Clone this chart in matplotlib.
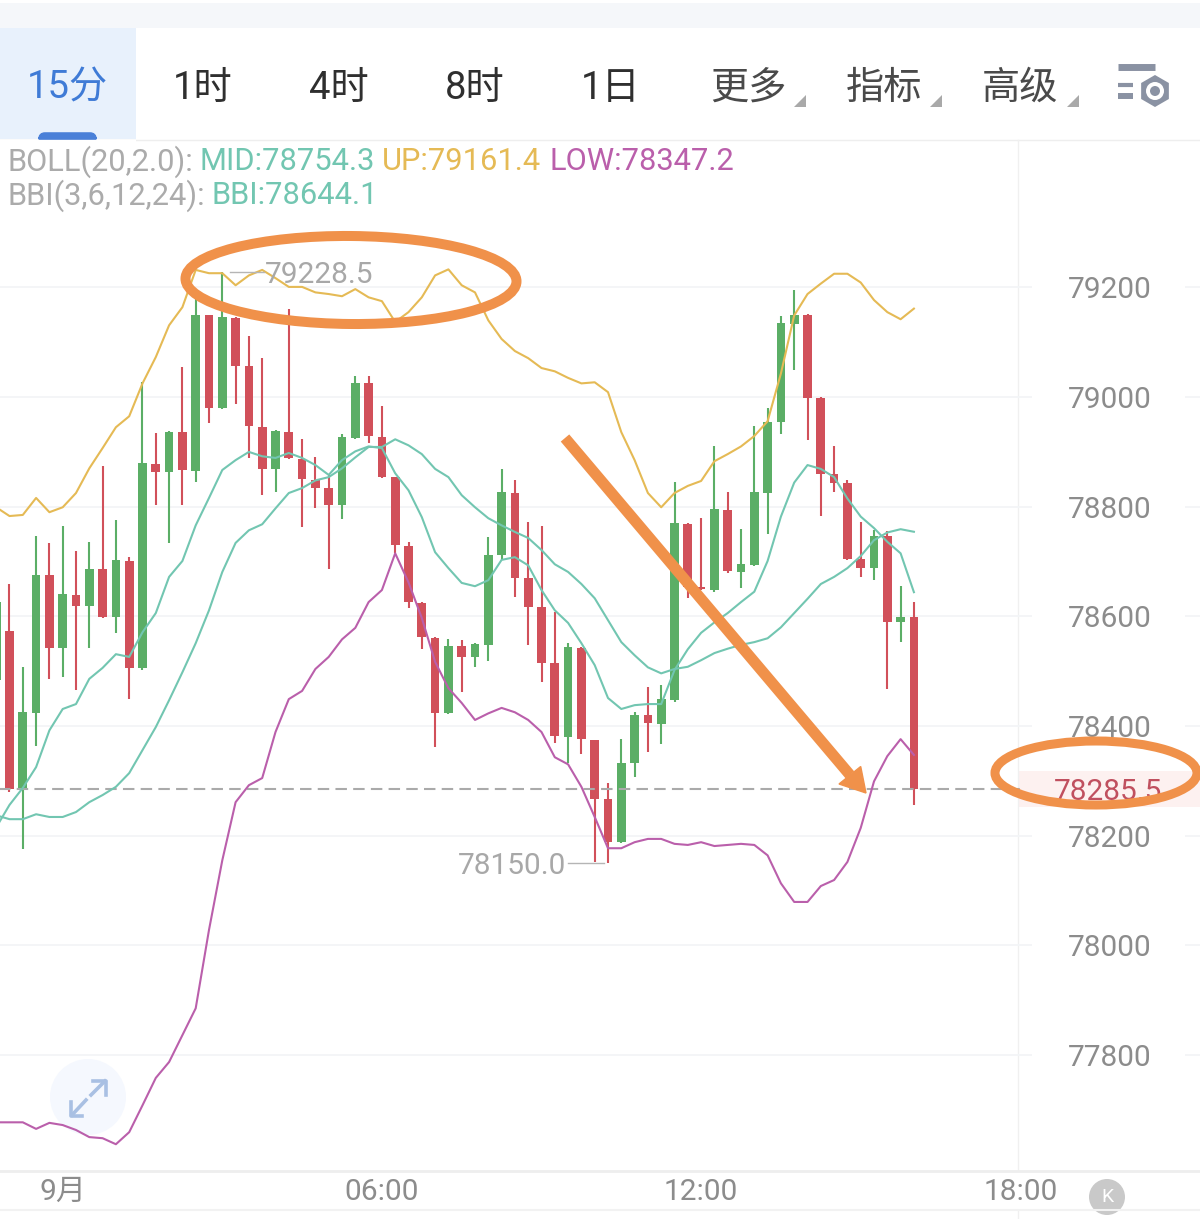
import numpy as np
import matplotlib
matplotlib.use("Agg")
from matplotlib import pyplot as plt
from matplotlib.patches import Ellipse, Rectangle, Polygon, Circle, FancyBboxPatch, RegularPolygon

plt.rcParams['font.family'] = ['Roboto', 'Noto Sans CJK SC', 'DejaVu Sans']

# 15 min candles, first one is cut off by the left edge
opens = [78484, 78573, 78285, 78423, 78675, 78542, 78639, 78619, 78686, 78599, 78701,
         78506, 78878, 78863, 78936, 78865, 79149, 78980, 79144, 79056, 78945, 78869,
         78936, 78887, 78848, 78834, 78803, 78925, 79025, 78927, 78854, 78728, 78624,
         78560, 78423, 78546, 78526, 78548, 78712, 78825, 78670, 78617, 78515, 78380,
         78542, 78374, 78267, 78188, 78332, 78420, 78403, 78447, 78768, 78653, 78648,
         78794, 78681, 78693, 78825, 78954, 79134, 79149, 78999, 78859, 78843, 78704,
         78688, 78746, 78589, 78599]
highs = [78640, 78659, 78507, 78746, 78734, 78765, 78719, 78735, 78874, 78776, 78708,
         79027, 78934, 78938, 79055, 79190, 79150, 79228.5, 79146, 79111, 79071, 78940,
         79160, 78923, 78890, 78858, 78932, 79038, 79038, 78983, 78854, 78735, 78626,
         78562, 78558, 78557, 78551, 78745, 78869, 78848, 78772, 78765, 78608, 78551,
         78544, 78375, 78296, 78376, 78425, 78471, 78475, 78846, 78770, 78779, 78910,
         78826, 78759, 78947, 78981, 79148, 79195, 79151, 79000, 78911, 78848, 78773,
         78757, 78755, 78655, 78626]
lows = [78470, 78279, 78175, 78363, 78486, 78489, 78465, 78542, 78597, 78569, 78449,
        78502, 78803, 78734, 78803, 78845, 78952, 78978, 78987, 78889, 78821, 78827,
        78887, 78763, 78797, 78686, 78777, 78923, 78916, 78852, 78715, 78615, 78540,
        78361, 78421, 78462, 78507, 78518, 78703, 78635, 78548, 78480, 78369, 78332,
        78349, 78152, 78150, 78186, 78307, 78352, 78367, 78444, 78634, 78648, 78644,
        78680, 78651, 78691, 78751, 78933, 79049, 78922, 78783, 78826, 78703, 78672,
        78666, 78467, 78554, 78256]
closes = [78626, 78285, 78425, 78675, 78542, 78641, 78619, 78686, 78599, 78703, 78506,
          78880, 78863, 78936, 78867, 79149, 78980, 79146, 79056, 78947, 78869, 78938,
          78889, 78850, 78834, 78803, 78927, 79025, 78929, 78854, 78730, 78626, 78562,
          78423, 78546, 78526, 78549, 78712, 78827, 78670, 78617, 78515, 78382, 78544,
          78376, 78267, 78188, 78332, 78420, 78405, 78449, 78770, 78653, 78650, 78796,
          78682, 78695, 78826, 78955, 79135, 79149, 78999, 78860, 78843, 78705, 78688,
          78746, 78589, 78599, 78285.5]

boll_up = [78799, 78783, 78785, 78816, 78790, 78799, 78825, 78870, 78907, 78945, 78965,
           79025, 79073, 79131, 79164, 79232, 79226, 79226, 79204, 79222, 79232, 79217,
           79201, 79201, 79191, 79188, 79184, 79197, 79182, 79175, 79137, 79155, 79182,
           79222, 79233, 79204, 79191, 79140, 79106, 79084, 79071, 79053, 79047, 79035,
           79025, 79027, 79009, 78936, 78885, 78825, 78799, 78825, 78838, 78847, 78883,
           78896, 78910, 78929, 78956, 79043, 79149, 79188, 79207, 79225, 79225, 79209,
           79177, 79155, 79142, 79161.4]
boll_mid = [78237, 78230, 78230, 78239, 78234, 78234, 78243, 78261, 78274, 78289, 78314,
            78356, 78398, 78447, 78498, 78551, 78611, 78681, 78734, 78757, 78768, 78797,
            78825, 78834, 78848, 78854, 78870, 78890, 78909, 78909, 78923, 78912, 78896,
            78869, 78854, 78821, 78799, 78779, 78766, 78754, 78743, 78721, 78695, 78681,
            78659, 78633, 78593, 78553, 78529, 78507, 78496, 78504, 78508, 78520, 78533,
            78541, 78548, 78553, 78560, 78580, 78606, 78632, 78659, 78672, 78688, 78710,
            78739, 78753, 78759, 78754.3]
boll_low = [77677, 77677, 77677, 77665, 77676, 77672, 77663, 77650, 77648, 77637, 77659,
            77708, 77758, 77787, 77836, 77885, 78028, 78155, 78261, 78292, 78305, 78389,
            78449, 78464, 78504, 78526, 78558, 78579, 78626, 78648, 78715, 78662, 78597,
            78517, 78469, 78442, 78411, 78423, 78433, 78425, 78411, 78389, 78343, 78330,
            78289, 78234, 78177, 78177, 78188, 78194, 78194, 78185, 78183, 78188, 78181,
            78183, 78185, 78183, 78164, 78113, 78079, 78079, 78108, 78119, 78152, 78214,
            78299, 78345, 78376, 78347.2]
bbi = [78215, 78256, 78287, 78325, 78392, 78431, 78440, 78486, 78506, 78531, 78526,
       78571, 78606, 78672, 78701, 78766, 78816, 78867, 78885, 78900, 78892, 78889,
       78898, 78889, 78876, 78858, 78885, 78901, 78910, 78907, 78861, 78830, 78781,
       78717, 78688, 78661, 78655, 78666, 78703, 78708, 78693, 78648, 78611, 78588,
       78551, 78511, 78451, 78431, 78438, 78440, 78440, 78502, 78540, 78570, 78589,
       78606, 78626, 78645, 78701, 78782, 78844, 78876, 78869, 78854, 78815, 78782,
       78761, 78736, 78715, 78644.1]

y_ticks = [79200, 79000, 78800, 78600, 78400, 78200, 78000, 77800]
x_ticks = [4, 28, 52, 76]
x_labels = ['9月', '06:00', '12:00', '18:00']
last_price = 78285.5
tabs = ['1时', '4时', '8时', '1日', '更多', '指标', '高级']
tab_x = [203, 339, 475, 611, 748, 884, 1020]

GREEN = '#5bae66'
RED = '#d1505a'
TEAL = '#72c6b1'
YELLOW = '#e5ba55'
MAGENTA = '#ba5fab'
ORANGE = '#f0914a'
GRAY = '#8c8c8c'

fig = plt.figure(figsize=(12, 12.19), dpi=100, facecolor='white')

# pixel layer for the app chrome
bg = fig.add_axes([0, 0, 1, 1], zorder=0)
bg.set_xlim(0, 1200)
bg.set_ylim(1219, 0)
bg.axis('off')

bg.add_patch(Rectangle((0, 3), 1200, 25, fc='#f5f7fa', ec='none'))
bg.add_patch(Rectangle((0, 28), 136, 111, fc='#e8f1fc', ec='none'))
bg.add_patch(FancyBboxPatch((41, 135), 53, 6, boxstyle='round,pad=0,rounding_size=4',
                            fc='#4a80d8', ec='#4a80d8', lw=4))
bg.plot([0, 1200], [139.5, 139.5], color='#eeeeee', lw=1)
bg.add_patch(Rectangle((0, 139.5), 136, 4, fc='white', ec='none', zorder=3))

bg.text(67, 88, '15分', color='#3f7bd6', fontsize=27.5, ha='center', va='center')
for t, x in zip(tabs, tab_x):
    col = '#2f2f2f' if t in ('1时', '4时', '8时', '1日') else '#4a4a4a'
    bg.text(x, 88, t, color=col, fontsize=27.5, ha='center', va='center')
for x in [800, 936, 1073]:
    bg.add_patch(Polygon([[x + 6, 95], [x + 6, 107], [x - 6, 107]], fc='#a9a9a9', ec='none'))

# settings icon
for yy, x1, w in [(66.5, 1155, 5), (85, 1133, 3), (96, 1133, 4.3)]:
    bg.plot([1118, x1], [yy, yy], color='#8a92a3', lw=w, solid_capstyle='butt')
bg.add_patch(RegularPolygon((1155, 91), 6, radius=16, fc='#8a92a3', ec='none'))
bg.add_patch(Circle((1155, 91), 9, fc='white', ec='none'))
bg.add_patch(Circle((1155, 91), 5, fc='#8a92a3', ec='none'))

# legend lines, coloured piece by piece
for txt, x, y, col in [('BOLL(20,2.0):', 8, 162, '#ababab'), ('MID:78754.3', 200, 162, TEAL),
                       ('UP:79161.4', 382, 162, YELLOW), ('LOW:78347.2', 549, 162, MAGENTA),
                       ('BBI(3,6,12,24):', 8, 196, '#ababab'), ('BBI:78644.1', 212, 196, TEAL)]:
    bg.text(x, y, txt, color=col, fontsize=22.2, ha='left', va='center')

# right price band, separators, footer
bg.add_patch(Rectangle((1018, 771), 182, 36, fc='#fdf1f0', ec='none'))
bg.plot([1018, 1018], [140, 1170], color='#f0f0f0', lw=1)
bg.plot([1018, 1018], [1211, 1219], color='#f0f0f0', lw=1)
bg.plot([0, 1200], [1170.5, 1170.5], color='#eeeeee', lw=2)
bg.plot([0, 1200], [1210, 1210], color='#f2f2f2', lw=1.5)

# expand button and K button
bg.add_patch(Circle((88, 1097), 38, fc='#f5f8fe', ec='none'))
bg.plot([72, 86], [1115, 1100], color='#a9c0e3', lw=2.6)
bg.plot([71, 71, 82], [1102, 1116, 1116], color='#a9c0e3', lw=2.6)
bg.plot([91, 105], [1095, 1081], color='#a9c0e3', lw=2.6)
bg.plot([93, 106, 106], [1081, 1081, 1095], color='#a9c0e3', lw=2.6)
bg.add_patch(Circle((1107, 1197), 18, fc='#c9c9c9', ec='none'))
bg.text(1107, 1197, 'K', color='white', fontsize=14, ha='center', va='center')

# chart axes
ax = fig.add_axes([0, 49 / 1219, 1, 1030 / 1219], zorder=1)
ax.patch.set_alpha(0)
ax.set_xlim(-0.714, 89.51)
ax.set_ylim(77590, 79469)
for s in ax.spines.values():
    s.set_visible(False)

ytr = ax.get_yaxis_transform()
ax.hlines(y_ticks, 0, 0.86, transform=ytr, color='#f3f5f7', lw=1.3, zorder=1)
ax.hlines(y_ticks, 0.9875, 1, transform=ytr, color='#f3f5f7', lw=1.3, zorder=1)

xs = np.arange(-1, 69)
o, h, l, c = map(np.array, (opens, highs, lows, closes))
up = c >= o
cols = np.where(up, GREEN, RED)
ax.vlines(xs, l, h, colors=cols, lw=1.5, zorder=2)
ax.bar(xs, np.abs(c - o), bottom=np.minimum(o, c), width=0.66, color=cols, zorder=2)

ax.hlines(last_price, -1, 76, color='#aaaaaa', lw=1.5, linestyles=(0, (5.5, 3)), zorder=3)

ax.plot(xs, boll_up, color=YELLOW, lw=1.5, zorder=4)
ax.plot(xs, boll_mid, color=TEAL, lw=1.5, zorder=4)
ax.plot(xs, boll_low, color=MAGENTA, lw=1.5, zorder=4)
ax.plot(xs, bbi, color=TEAL, lw=1.5, zorder=4)

# high and low markers, text sits a bit under the leader line
ax.plot([16.6, 19.1], [79228.5, 79228.5], color='#b5b5b5', lw=1, zorder=5)
ax.plot([42.0, 44.7], [78150, 78150], color='#b5b5b5', lw=1, zorder=5)
ax.annotate('79228.5', xy=(16, 79228.5), xytext=(31, -2), textcoords='offset points',
            color='#a8a8a8', fontsize=21.5, ha='left', va='center', zorder=5)
ax.annotate('78150.0', xy=(45, 78150), xytext=(-30, -2), textcoords='offset points',
            color='#a8a8a8', fontsize=21.5, ha='right', va='center', zorder=5)

ax.yaxis.tick_right()
ax.set_yticks(y_ticks)
ax.set_yticklabels([str(v) for v in y_ticks])
ax.tick_params(axis='y', length=0, pad=-95, labelsize=21.5, labelcolor=GRAY)
ax.set_xticks(x_ticks)
ax.set_xticklabels(x_labels)
ax.tick_params(axis='x', length=0, pad=6, labelsize=21.5, labelcolor=GRAY)

ax.annotate('78285.5', xy=(1108 / 1200, last_price), xycoords=ytr, xytext=(0, -2),
            textcoords='offset points', color='#c0505f', fontsize=21.5,
            ha='center', va='center', zorder=5)

# hand drawn orange marks on top
top = fig.add_axes([0, 0, 1, 1], zorder=2)
top.patch.set_alpha(0)
top.set_xlim(0, 1200)
top.set_ylim(1219, 0)
top.axis('off')
top.add_patch(Ellipse((351, 280), 331, 88, angle=0.5, fill=False, ec=ORANGE, lw=7.2))
top.add_patch(Ellipse((1096, 773), 202, 64, angle=0, fill=False, ec=ORANGE, lw=6.5, clip_on=False))
top.plot([565, 850], [438, 775], color=ORANGE, lw=8, solid_capstyle='butt')
top.add_patch(Polygon([[866, 793], [860.7, 766.5], [839, 784]], fc=ORANGE, ec=ORANGE, lw=1))

fig.savefig('out.png', dpi=100)
